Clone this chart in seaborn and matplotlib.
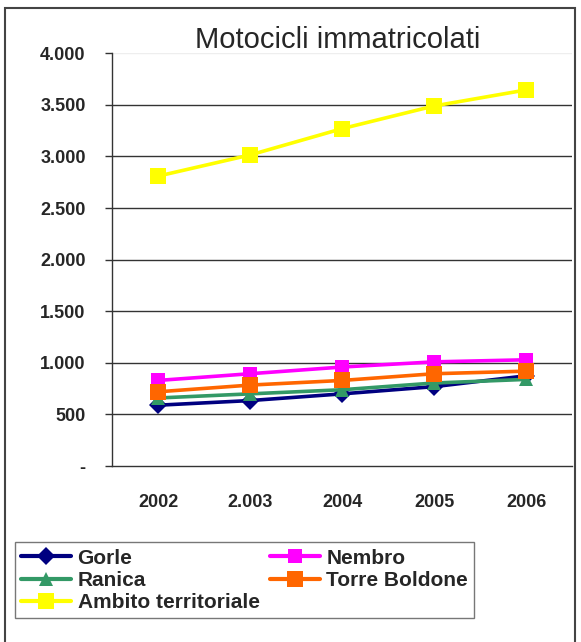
import matplotlib
matplotlib.use("Agg")
import matplotlib.pyplot as plt
import seaborn as sns
import pandas as pd
import numpy as np
from matplotlib.patches import Rectangle
from matplotlib.lines import Line2D

years = ["2002", "2.003", "2004", "2005", "2006"]
gorle = [590, 635, 700, 770, 875]
nembro = [830, 895, 960, 1010, 1030]
ranica = [660, 700, 740, 805, 840]
torre = [720, 785, 830, 895, 920]
ambito = [2810, 3015, 3270, 3490, 3645]

series_names = ["Gorle", "Nembro", "Ranica", "Torre Boldone", "Ambito territoriale"]
series_vals = [gorle, nembro, ranica, torre, ambito]
colors = ["#000080", "#FF00FF", "#339966", "#FF6600", "#FFFF00"]
markers = ["D", "s", "^", "s", "s"]
msizes = [9, 10, 10, 12, 12]

rows = []
for name, vals in zip(series_names, series_vals):
    for i, v in enumerate(vals):
        rows.append({"pos": i, "value": v, "serie": name})
df = pd.DataFrame(rows)

sns.set_style("white")
plt.rcParams["font.family"] = ["Liberation Sans", "DejaVu Sans"]

fig = plt.figure(figsize=(5.81, 6.42), dpi=100)
ax = fig.add_axes([0.193, 0.274, 0.792, 0.643])

sns.lineplot(data=df, x="pos", y="value", hue="serie", style="serie",
             hue_order=series_names, style_order=series_names,
             palette=colors, markers=markers, dashes=False,
             linewidth=2.6, markeredgewidth=0, ax=ax, legend=False)
for line, ms in zip(ax.lines, msizes):
    line.set_markersize(ms)

ax.set_xlim(-0.5, 4.5)
ax.set_ylim(0, 4000)
ax.set_yticks(np.arange(0, 4001, 500))
ax.set_yticklabels(["-", "500", "1.000", "1.500", "2.000", "2.500", "3.000", "3.500", "4.000"],
                   fontsize=13, fontweight="bold")
ax.set_xticks(np.arange(5))
ax.set_xticklabels(years, fontsize=13, fontweight="bold")
ax.set_xticks(np.arange(-0.5, 5, 1), minor=True)
ax.tick_params(axis="x", which="major", length=0, pad=20)
ax.tick_params(axis="x", which="minor", length=5, width=1, color="#333333", direction="out")
ax.tick_params(axis="y", length=5, width=1, color="#333333", direction="out", left=True, pad=14)
ax.set_xlabel("")
ax.set_ylabel("")
for y in np.arange(500, 3501, 500):
    ax.axhline(y, color="#333333", lw=1, zorder=0)
ax.axhline(4000, color="#eeeeee", lw=1, zorder=0)
for s in ["top", "right"]:
    ax.spines[s].set_visible(False)
for s in ["left", "bottom"]:
    ax.spines[s].set_color("#333333")
    ax.spines[s].set_linewidth(1)

fig.text(0.582, 0.937, "Motocicli immatricolati", fontsize=21, ha="center", va="center")

handles = []
for c, m, ms in zip(colors, markers, msizes):
    handles.append(Line2D([], [], color=c, marker=m, markersize=ms, markeredgewidth=0, lw=3))
order = [0, 2, 4, 1, 3]
leg = fig.legend([handles[i] for i in order], [series_names[i] for i in order],
                 ncol=2, loc="upper left", bbox_to_anchor=(0.026, 0.155),
                 frameon=True, fancybox=False, edgecolor="#555555",
                 prop={"weight": "bold", "size": 15, "family": "Liberation Sans"},
                 handlelength=2.4, handletextpad=0.3, labelspacing=0.15,
                 columnspacing=0.5, borderpad=0.3, borderaxespad=0)
leg.get_frame().set_linewidth(1)

fig.patches.append(Rectangle((0.008, -0.01), 0.982, 0.997, transform=fig.transFigure,
                             fill=False, edgecolor="#444444", lw=1.5))

fig.savefig("out.png", dpi=100)
